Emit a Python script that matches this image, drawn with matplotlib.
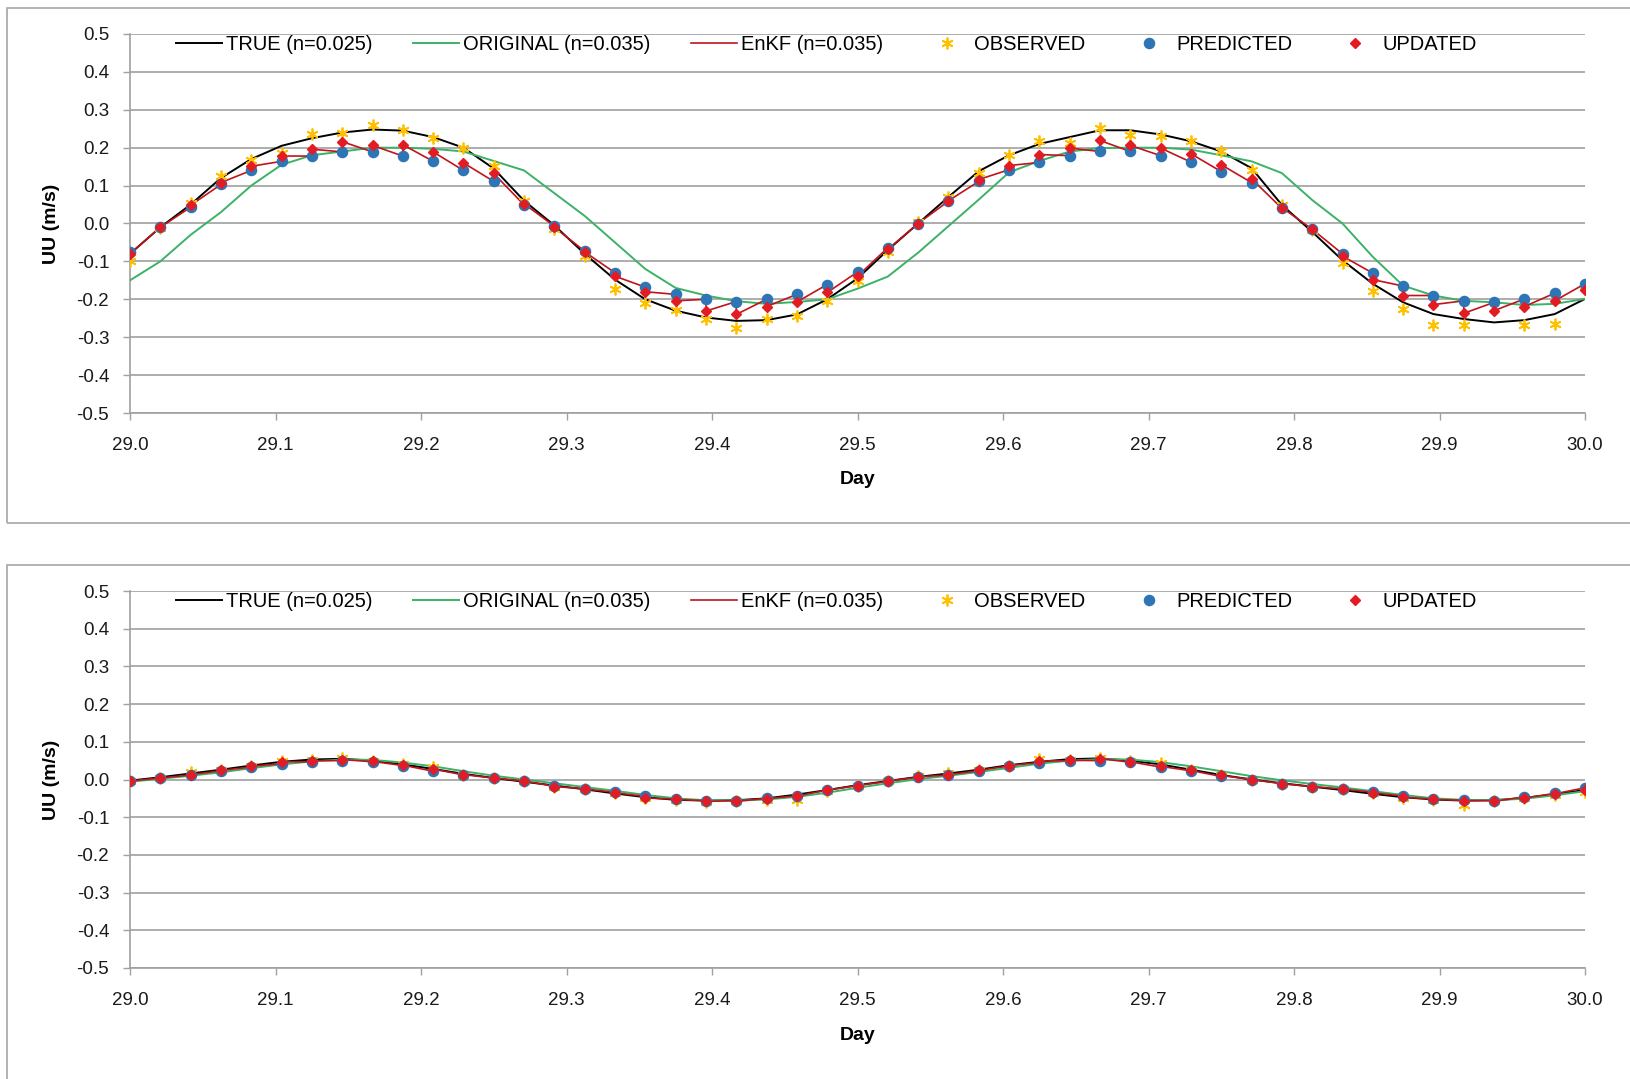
import numpy as np
import matplotlib

matplotlib.use("Agg")
import matplotlib.pyplot as plt
from matplotlib.patches import Rectangle
from matplotlib.ticker import FormatStrFormatter, MultipleLocator

plt.rcParams["font.family"] = ["Liberation Sans", "DejaVu Sans"]
plt.rcParams["axes.unicode_minus"] = False

# half-hourly samples over day 29 -> 30
days = 29 + np.arange(49) / 48

labels = ["TRUE (n=0.025)", "ORIGINAL (n=0.035)", "EnKF (n=0.035)", "OBSERVED", "PREDICTED", "UPDATED"]

# ---- upper panel ----
true_top = [-0.08, -0.01, 0.05, 0.12, 0.17, 0.205, 0.225, 0.24, 0.248, 0.245, 0.228, 0.2, 0.145,
            0.06, -0.005, -0.08, -0.148, -0.2, -0.23, -0.248, -0.257, -0.255, -0.24, -0.2, -0.145,
            -0.07, 0.0, 0.07, 0.138, 0.18, 0.21, 0.228, 0.246, 0.246, 0.235, 0.217, 0.19, 0.146,
            0.049, -0.022, -0.097, -0.159, -0.208, -0.239, -0.252, -0.261, -0.255, -0.239, -0.199]
orig_top = [-0.15, -0.10, -0.03, 0.03, 0.10, 0.155, 0.18, 0.19, 0.20, 0.20, 0.197, 0.19, 0.165,
            0.14, 0.08, 0.02, -0.05, -0.12, -0.17, -0.19, -0.205, -0.212, -0.207, -0.2, -0.172,
            -0.14, -0.077, -0.007, 0.063, 0.135, 0.165, 0.19, 0.199, 0.2, 0.2, 0.195, 0.18, 0.164,
            0.133, 0.062, 0.0, -0.088, -0.164, -0.19, -0.204, -0.208, -0.215, -0.212, -0.199]
pred_top = [-0.075, -0.01, 0.043, 0.103, 0.14, 0.164, 0.178, 0.189, 0.189, 0.178, 0.164, 0.14, 0.111,
            0.049, -0.007, -0.073, -0.13, -0.168, -0.187, -0.2, -0.206, -0.2, -0.187, -0.161, -0.128,
            -0.064, 0.0, 0.059, 0.111, 0.142, 0.161, 0.179, 0.19, 0.19, 0.179, 0.162, 0.137, 0.108,
            0.04, -0.015, -0.08, -0.131, -0.165, -0.19, -0.204, -0.208, -0.199, -0.184, -0.159]
upd_top = [-0.08, -0.01, 0.048, 0.108, 0.151, 0.178, 0.196, 0.216, 0.206, 0.208, 0.189, 0.16, 0.132,
           0.052, -0.01, -0.075, -0.139, -0.18, -0.204, -0.231, -0.24, -0.219, -0.207, -0.182, -0.139,
           -0.068, 0.0, 0.06, 0.116, 0.153, 0.182, 0.199, 0.219, 0.206, 0.199, 0.184, 0.155, 0.118,
           0.042, -0.015, -0.086, -0.148, -0.19, -0.214, -0.237, -0.23, -0.219, -0.204, -0.175]
obs_top = [-0.10, -0.012, 0.054, 0.125, 0.168, 0.185, 0.235, 0.239, 0.26, 0.246, 0.225, 0.2, 0.152,
           0.059, -0.015, -0.086, -0.174, -0.21, -0.228, -0.253, -0.277, -0.253, -0.244, -0.204, -0.152,
           -0.075, 0.004, 0.07, 0.132, 0.182, 0.217, 0.212, 0.252, 0.234, 0.23, 0.217, 0.19, 0.142,
           0.049, -0.018, -0.104, -0.177, -0.226, -0.268, -0.268, np.nan, -0.268, -0.264, -0.165]

# ---- lower panel ----
true_bot = [-0.003, 0.006, 0.016, 0.026, 0.037, 0.047, 0.053, 0.055, 0.05, 0.04, 0.028, 0.015, 0.004,
            -0.006, -0.016, -0.026, -0.037, -0.047, -0.054, -0.056, -0.055, -0.05, -0.04, -0.028, -0.015,
            -0.004, 0.007, 0.016, 0.026, 0.038, 0.047, 0.054, 0.056, 0.05, 0.04, 0.026, 0.012, 0.0,
            -0.01, -0.019, -0.028, -0.038, -0.047, -0.053, -0.056, -0.055, -0.049, -0.039, -0.028]
orig_bot = [-0.006, 0.002, 0.01, 0.019, 0.03, 0.04, 0.048, 0.053, 0.052, 0.045, 0.035, 0.022, 0.01,
            0.0, -0.01, -0.02, -0.03, -0.041, -0.05, -0.055, -0.056, -0.053, -0.046, -0.035, -0.022,
            -0.01, 0.001, 0.01, 0.02, 0.031, 0.042, 0.05, 0.054, 0.053, 0.046, 0.035, 0.022, 0.009,
            -0.002, -0.012, -0.021, -0.031, -0.041, -0.05, -0.054, -0.055, -0.051, -0.042, -0.031]
pred_bot = [-0.004, 0.004, 0.012, 0.023, 0.033, 0.042, 0.047, 0.05, 0.047, 0.037, 0.022, 0.012, 0.004,
            -0.004, -0.018, -0.024, -0.034, -0.045, -0.052, -0.056, -0.056, -0.05, -0.043, -0.028, -0.016,
            -0.005, 0.006, 0.012, 0.023, 0.036, 0.045, 0.05, 0.05, 0.046, 0.033, 0.023, 0.008, 0.0,
            -0.011, -0.019, -0.025, -0.034, -0.044, -0.052, -0.055, -0.056, -0.046, -0.037, -0.022]
upd_bot = [-0.004, 0.004, 0.013, 0.024, 0.035, 0.047, 0.05, 0.053, 0.048, 0.038, 0.028, 0.013, 0.004,
           -0.004, -0.019, -0.025, -0.035, -0.049, -0.053, -0.058, -0.058, -0.051, -0.044, -0.028, -0.016,
           -0.004, 0.007, 0.013, 0.024, 0.037, 0.049, 0.051, 0.055, 0.047, 0.035, 0.024, 0.011, 0.0,
           -0.011, -0.019, -0.025, -0.035, -0.047, -0.053, -0.056, -0.058, -0.049, -0.038, -0.028]
obs_bot = [-0.004, 0.005, 0.02, 0.024, 0.036, 0.05, 0.052, 0.058, 0.048, 0.04, 0.032, 0.013, 0.004,
           -0.004, -0.02, -0.026, -0.037, -0.05, -0.054, -0.059, -0.058, -0.055, -0.055, -0.03, -0.016,
           -0.004, 0.008, 0.018, 0.024, 0.037, 0.055, 0.051, 0.058, 0.05, 0.045, 0.025, 0.012, 0.0,
           -0.011, -0.019, -0.025, -0.036, -0.048, -0.054, -0.068, -0.058, -0.05, -0.04, -0.033]

C_TRUE = "#000000"
C_ORIG = "#3BB266"
C_ENKF = "#C0141B"
C_OBS = "#FFC000"
C_PRED = "#2E75B6"
C_UPD = "#E31B23"
GRID = "#A0A0A0"


def draw_panel(fig, rect, true, orig, pred, upd, obs):
    ax = fig.add_axes(rect)
    pred = np.asarray(pred)
    upd = np.asarray(upd)
    # EnKF trajectory: forecast to each obs time, then jump to the analysis value
    enkf_x = np.repeat(days, 2)
    enkf_y = np.column_stack([pred, upd]).ravel()

    ax.plot(days, true, color=C_TRUE, lw=1.4, label=labels[0], zorder=3)
    ax.plot(days, orig, color=C_ORIG, lw=1.4, label=labels[1], zorder=3)
    ax.plot(enkf_x, enkf_y, color=C_ENKF, lw=1.2, label=labels[2], zorder=4)
    ax.plot(days, obs, ls="none", marker=(6, 2, 0), ms=8.5, mew=1.3, color=C_OBS, label=labels[3], zorder=5)
    ax.plot(days, pred, ls="none", marker="o", ms=7.3, color=C_PRED, label=labels[4], zorder=6)
    ax.plot(days, upd, ls="none", marker="D", ms=5.6, color=C_UPD, label=labels[5], zorder=7)

    ax.set_xlim(29.0, 30.0)
    ax.set_ylim(-0.5, 0.5)
    ax.xaxis.set_major_locator(MultipleLocator(0.1))
    ax.yaxis.set_major_locator(MultipleLocator(0.1))
    ax.xaxis.set_major_formatter(FormatStrFormatter("%.1f"))
    ax.yaxis.set_major_formatter(FormatStrFormatter("%.1f"))
    ax.grid(axis="y", color=GRID, lw=1.2)
    ax.set_axisbelow(True)
    for side in ("top", "right"):
        ax.spines[side].set_visible(False)
    for side in ("left", "bottom"):
        ax.spines[side].set_color(GRID)
        ax.spines[side].set_linewidth(1.2)
    ax.tick_params(axis="x", length=5, width=1, color=GRID, pad=12, labelsize=13.5, labelcolor="#1a1a1a")
    ax.tick_params(axis="y", length=5, width=1, color=GRID, pad=10, labelsize=13.5, labelcolor="#1a1a1a")

    ax.legend(loc="center left", bbox_to_anchor=(0.0315, 0.972), ncol=6, frameon=False,
              fontsize=14.5, handlelength=2.3, handletextpad=0.2, columnspacing=2.0,
              borderpad=0, borderaxespad=0)
    return ax


fig = plt.figure(figsize=(16.31, 10.79), dpi=100)

# chart-area frames
fig.add_artist(Rectangle((7 / 1631, 1 - 523 / 1079), 1.0, (523 - 8) / 1079, transform=fig.transFigure,
                         fill=False, edgecolor="#A6A6A6", lw=1.2))
fig.add_artist(Rectangle((7 / 1631, -0.02), 1.0, 0.02 + 1 - 565 / 1079, transform=fig.transFigure,
                         fill=False, edgecolor="#A6A6A6", lw=1.2))

left = 130 / 1631
width = 1455 / 1631
panels = [
    ((left, 1 - 413 / 1079, width, 379 / 1079), true_top, orig_top, pred_top, upd_top, obs_top, 480),
    ((left, 1 - 968 / 1079, width, 377 / 1079), true_bot, orig_bot, pred_bot, upd_bot, obs_bot, 1036),
]
for rect, tr, og, pr, up, ob, day_y in panels:
    draw_panel(fig, rect, tr, og, pr, up, ob)
    fig.text(52 / 1631, rect[1] + rect[3] / 2, "UU (m/s)", rotation=90, ha="center", va="center",
             fontsize=14, fontweight="bold")
    fig.text(left + width / 2, 1 - day_y / 1079, "Day", ha="center", va="center",
             fontsize=14, fontweight="bold")

fig.savefig("out.png", dpi=100)
